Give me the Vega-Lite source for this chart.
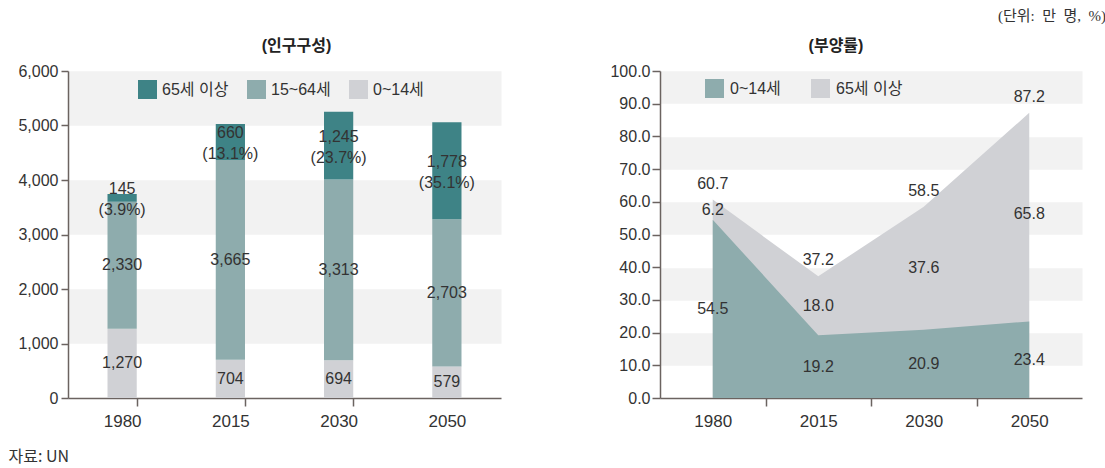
{
  "$schema": "https://vega.github.io/schema/vega-lite/v6.json",
  "background": "white",
  "padding": {"left": 8, "top": 9, "right": 5, "bottom": 2},
  "title": {
    "text": "(단위:\u00a0\u00a0만\u00a0\u00a0명,\u00a0\u00a0%)",
    "anchor": "end",
    "font": "Liberation Serif, Noto Sans CJK KR",
    "fontSize": 15,
    "fontWeight": "normal",
    "color": "#333333",
    "dx": 24,
    "offset": 14
  },
  "config": {
    "view": {"stroke": null},
    "font": "Liberation Sans, Noto Sans CJK KR",
    "locale": {
      "number": {"decimal": ".", "thousands": ",", "grouping": [3], "currency": ["(", "%)"]}
    },
    "axis": {
      "domainColor": "#6b6360",
      "domainWidth": 1.5,
      "tickColor": "#6b6360",
      "tickWidth": 1.5,
      "labelFont": "Liberation Sans, Noto Sans CJK KR",
      "labelFontSize": 16,
      "labelColor": "#333333",
      "grid": false
    },
    "legend": {
      "labelFont": "Liberation Sans, Noto Sans CJK KR",
      "labelFontSize": 16,
      "labelColor": "#333333"
    }
  },
  "spacing": 108,
  "resolve": {"scale": {"color": "independent"}, "legend": {"color": "independent"}},
  "hconcat": [
    {
      "width": 433,
      "height": 327,
      "title": {"text": "(인구구성)", "fontSize": 16, "fontWeight": "bold", "color": "#222222", "dx": 12, "offset": 9},
      "data": {
        "values": [
          {"연도": "1980", "연령": "0~14세", "인구": 1270},
          {"연도": "1980", "연령": "15~64세", "인구": 2330},
          {"연도": "1980", "연령": "65세 이상", "인구": 145, "비중": 3.9},
          {"연도": "2015", "연령": "0~14세", "인구": 704},
          {"연도": "2015", "연령": "15~64세", "인구": 3665},
          {"연도": "2015", "연령": "65세 이상", "인구": 660, "비중": 13.1},
          {"연도": "2030", "연령": "0~14세", "인구": 694},
          {"연도": "2030", "연령": "15~64세", "인구": 3313},
          {"연도": "2030", "연령": "65세 이상", "인구": 1245, "비중": 23.7},
          {"연도": "2050", "연령": "0~14세", "인구": 579},
          {"연도": "2050", "연령": "15~64세", "인구": 2703},
          {"연도": "2050", "연령": "65세 이상", "인구": 1778, "비중": 35.1}
        ]
      },
      "encoding": {
        "x": {
          "field": "연도",
          "type": "ordinal",
          "scale": {"type": "band", "paddingInner": 0.73, "paddingOuter": 0.365},
          "axis": {
            "title": "자료: UN",
            "titleX": -60,
            "titleY": 58,
            "titleAlign": "left",
            "titleAnchor": "start",
            "titleBaseline": "middle",
            "titleFontWeight": "normal",
            "titleFontSize": 16,
            "titleColor": "#333333",
            "titleFont": "Noto Sans CJK KR",
            "labelAngle": 0,
            "labelPadding": 7,
            "labelFontSize": 17,
            "tickBand": "extent",
            "tickSize": 8,
            "tickOpacity": {"condition": {"test": "datum.index === -1 || datum.index === 1", "value": 0}, "value": 1}
          }
        }
      },
      "layer": [
        {
          "mark": {"type": "bar"},
          "encoding": {
            "y": {
              "field": "인구",
              "type": "quantitative",
              "stack": "zero",
              "scale": {"domain": [0, 6000]},
              "axis": {"orient": "left", "title": null, "values": [0, 1000, 2000, 3000, 4000, 5000, 6000], "format": ",.0f", "tickSize": 7, "labelPadding": 3}
            },
            "color": {
              "field": "연령",
              "type": "nominal",
              "scale": {"domain": ["65세 이상", "15~64세", "0~14세"], "range": ["#3e8386", "#8eacad", "#d0d1d5"]},
              "legend": {
                "title": null,
                "orient": "none",
                "legendX": 70,
                "legendY": 9,
                "direction": "horizontal",
                "symbolType": "square",
                "symbolSize": 361,
                "symbolStrokeWidth": 0,
                "labelOffset": 5,
                "columnPadding": 18
              }
            },
            "order": {"field": "연령", "sort": "ascending"}
          }
        },
        {
          "mark": {"type": "text", "fontSize": 16, "color": "#333333"},
          "encoding": {
            "y": {
              "field": "인구",
              "type": "quantitative",
              "stack": "zero",
              "bandPosition": 0.5,
              "axis": {"orient": "right", "title": null, "values": [1500, 3500, 5500], "grid": true, "gridWidth": 54.5, "gridColor": "#f2f2f2", "labels": false, "ticks": false, "domain": false}
            },
            "detail": {"field": "연령"},
            "order": {"field": "연령", "sort": "ascending"},
            "text": {"field": "인구", "type": "quantitative", "format": ","},
            "opacity": {"condition": {"test": "datum['연령'] === '65세 이상'", "value": 0}, "value": 1}
          }
        },
        {
          "mark": {"type": "text", "fontSize": 16, "color": "#333333", "dy": -9},
          "encoding": {
            "y": {"field": "인구", "type": "quantitative", "stack": "zero", "bandPosition": 0.5, "axis": null},
            "detail": {"field": "연령"},
            "order": {"field": "연령", "sort": "ascending"},
            "text": {"field": "인구", "type": "quantitative", "format": ","},
            "opacity": {"condition": {"test": "datum['연령'] === '65세 이상'", "value": 1}, "value": 0}
          }
        },
        {
          "mark": {"type": "text", "fontSize": 16, "color": "#333333", "dy": 12},
          "encoding": {
            "y": {"field": "인구", "type": "quantitative", "stack": "zero", "bandPosition": 0.5, "axis": null},
            "detail": {"field": "연령"},
            "order": {"field": "연령", "sort": "ascending"},
            "text": {"field": "비중", "type": "quantitative", "format": "$.1f"},
            "opacity": {"condition": {"test": "datum['연령'] === '65세 이상'", "value": 1}, "value": 0}
          }
        }
      ],
      "resolve": {"axis": {"y": "independent"}}
    },
    {
      "width": 422,
      "height": 327,
      "title": {"text": "(부양률)", "fontSize": 16, "fontWeight": "bold", "color": "#222222", "dx": -35, "offset": 9},
      "data": {
        "values": [
          {"연도": "1980", "0~14세": 54.5, "65세 이상": 6.2, "총부양비": 60.7},
          {"연도": "2015", "0~14세": 19.2, "65세 이상": 18.0, "총부양비": 37.2},
          {"연도": "2030", "0~14세": 20.9, "65세 이상": 37.6, "총부양비": 58.5},
          {"연도": "2050", "0~14세": 23.4, "65세 이상": 65.8, "총부양비": 87.2}
        ]
      },
      "encoding": {
        "x": {
          "field": "연도",
          "type": "ordinal",
          "scale": {"type": "band", "paddingInner": 0, "paddingOuter": 0},
          "axis": {
            "title": null,
            "labelAngle": 0,
            "labelPadding": 7,
            "labelFontSize": 17,
            "tickBand": "extent",
            "tickSize": 8,
            "tickOpacity": {"condition": {"test": "datum.index === -1 || datum.index === 1", "value": 0}, "value": 1}
          }
        }
      },
      "layer": [
        {
          "mark": {"type": "area"},
          "encoding": {
            "y": {
              "field": "총부양비",
              "type": "quantitative",
              "scale": {"domain": [0, 100]},
              "axis": {"orient": "left", "title": null, "values": [0, 10, 20, 30, 40, 50, 60, 70, 80, 90, 100], "format": ".1f", "tickSize": 8, "labelPadding": 2}
            },
            "color": {
              "datum": "65세 이상",
              "scale": {"domain": ["0~14세", "65세 이상"], "range": ["#8eacad", "#d0d1d5"]},
              "legend": {
                "title": null,
                "orient": "none",
                "legendX": 45,
                "legendY": 8,
                "direction": "horizontal",
                "symbolType": "square",
                "symbolSize": 361,
                "symbolStrokeWidth": 0,
                "labelOffset": 6,
                "columnPadding": 30
              }
            }
          }
        },
        {
          "mark": {"type": "area"},
          "encoding": {
            "y": {"field": "0~14세", "type": "quantitative", "axis": null},
            "color": {"datum": "0~14세"}
          }
        },
        {
          "transform": [{"fold": ["0~14세", "65세 이상"], "as": ["연령", "부양비"]}],
          "mark": {"type": "text", "fontSize": 16, "color": "#333333"},
          "encoding": {
            "y": {"field": "부양비", "type": "quantitative", "stack": "zero", "bandPosition": 0.5, "axis": null},
            "detail": {"field": "연령"},
            "order": {"field": "연령", "sort": "ascending"},
            "text": {"field": "부양비", "type": "quantitative", "format": ".1f"}
          }
        },
        {
          "mark": {"type": "text", "fontSize": 16, "color": "#333333", "dy": -16},
          "encoding": {
            "y": {
              "field": "총부양비",
              "type": "quantitative",
              "axis": {"orient": "right", "title": null, "values": [15, 35, 55, 75, 95], "grid": true, "gridWidth": 32.7, "gridColor": "#f2f2f2", "labels": false, "ticks": false, "domain": false}
            },
            "text": {"field": "총부양비", "type": "quantitative", "format": ".1f"}
          }
        }
      ],
      "resolve": {"axis": {"y": "independent"}}
    }
  ]
}
